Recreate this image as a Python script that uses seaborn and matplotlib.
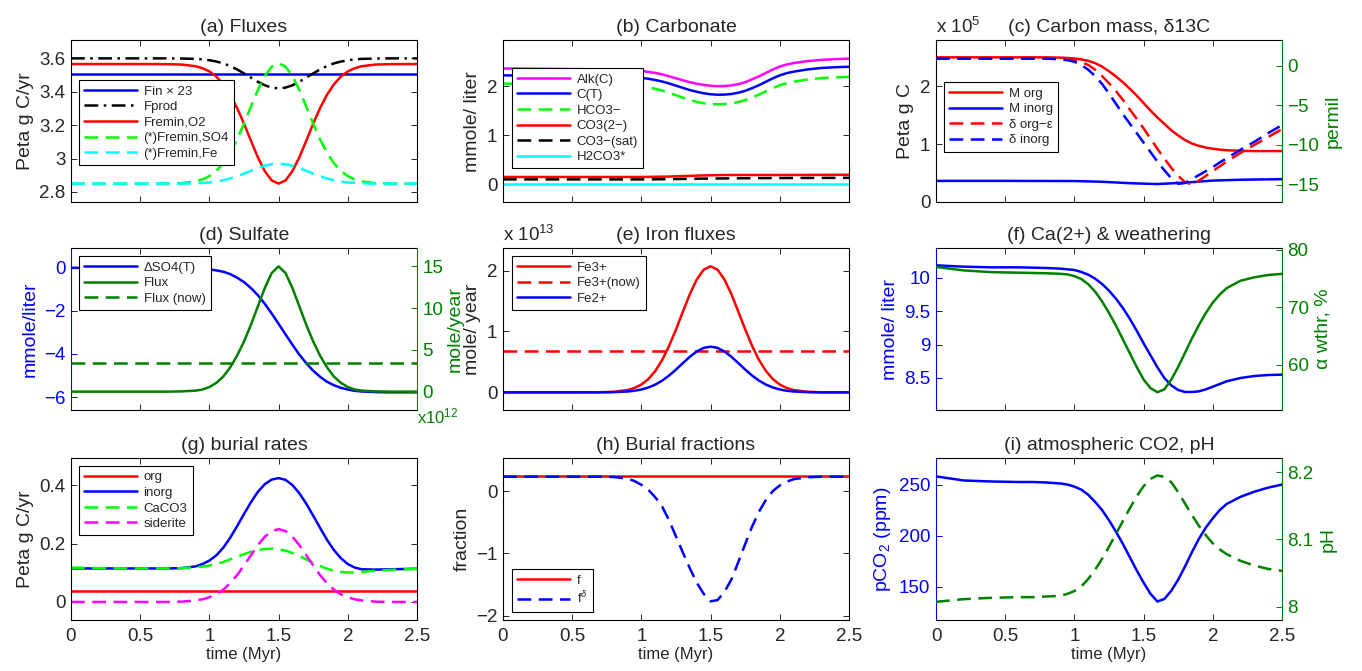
import matplotlib
matplotlib.use("Agg")
import matplotlib.pyplot as plt
import seaborn as sns
from matplotlib.ticker import FixedLocator, FuncFormatter

sns.set_style("ticks")
plt.rcParams['font.family'] = ['Liberation Sans', 'DejaVu Sans']
plt.rcParams['mathtext.fontset'] = 'custom'
plt.rcParams['mathtext.rm'] = 'Liberation Sans'
plt.rcParams['mathtext.it'] = 'Liberation Sans:italic'

# ---- data ----
# common time grid (Myr), finer where curves change
T = [0, 0.2, 0.4, 0.6, 0.7, 0.8, 0.9, 0.95, 1.0, 1.05, 1.1, 1.15, 1.2, 1.25, 1.3, 1.35,
     1.4, 1.45, 1.5, 1.55, 1.6, 1.65, 1.7, 1.75, 1.8, 1.85, 1.9, 1.95, 2.0, 2.05, 2.1,
     2.2, 2.3, 2.4, 2.5]
T_ENDS = [0, 2.5]
T_COARSE = [0, 0.5, 1.0, 1.2, 1.4, 1.6, 1.8, 2.0, 2.2, 2.5]

# (a) fluxes, Peta g C/yr
fin_x23 = [3.505, 3.505]
fprod = [3.6, 3.6, 3.6, 3.6, 3.6, 3.599, 3.597, 3.594, 3.589, 3.581, 3.570, 3.554, 3.534,
         3.510, 3.485, 3.460, 3.439, 3.425, 3.420, 3.425, 3.439, 3.460, 3.485, 3.510, 3.534,
         3.554, 3.570, 3.581, 3.589, 3.594, 3.597, 3.599, 3.6, 3.6, 3.6]
fremin_o2 = [3.566, 3.566, 3.566, 3.566, 3.565, 3.563, 3.553, 3.541, 3.522, 3.491, 3.445,
             3.383, 3.303, 3.209, 3.107, 3.008, 2.925, 2.869, 2.850, 2.869, 2.925, 3.008,
             3.107, 3.209, 3.303, 3.383, 3.445, 3.491, 3.522, 3.541, 3.553, 3.563, 3.565,
             3.566, 3.566]
fremin_so4 = [2.85, 2.85, 2.85, 2.85, 2.851, 2.853, 2.863, 2.875, 2.895, 2.926, 2.972, 3.034,
              3.115, 3.209, 3.311, 3.411, 3.494, 3.551, 3.570, 3.551, 3.494, 3.411, 3.311,
              3.209, 3.115, 3.034, 2.972, 2.926, 2.895, 2.875, 2.863, 2.853, 2.851, 2.85, 2.85]
fremin_fe = [2.85, 2.85, 2.85, 2.85, 2.85, 2.85, 2.852, 2.854, 2.857, 2.863, 2.870, 2.881,
             2.894, 2.910, 2.927, 2.943, 2.957, 2.966, 2.969, 2.966, 2.957, 2.943, 2.927,
             2.910, 2.894, 2.881, 2.870, 2.863, 2.857, 2.854, 2.852, 2.85, 2.85, 2.85, 2.85]

# (b) carbonate, mmole/liter
alk = [2.36, 2.355, 2.35, 2.345, 2.34, 2.335, 2.33, 2.32, 2.31, 2.29, 2.27, 2.24, 2.20, 2.16,
       2.12, 2.08, 2.05, 2.025, 2.008, 2.0, 2.003, 2.015, 2.04, 2.08, 2.14, 2.20, 2.27, 2.34,
       2.40, 2.44, 2.47, 2.51, 2.535, 2.55, 2.56]
c_total = [2.22, 2.215, 2.21, 2.205, 2.20, 2.195, 2.19, 2.18, 2.17, 2.15, 2.125, 2.095, 2.055,
           2.01, 1.965, 1.92, 1.885, 1.855, 1.835, 1.825, 1.828, 1.84, 1.865, 1.905, 1.96,
           2.02, 2.09, 2.16, 2.22, 2.265, 2.295, 2.34, 2.37, 2.385, 2.395]
hco3 = [2.05, 2.045, 2.04, 2.035, 2.03, 2.025, 2.02, 2.01, 1.995, 1.975, 1.945, 1.91, 1.865,
        1.815, 1.765, 1.72, 1.68, 1.65, 1.635, 1.63, 1.635, 1.65, 1.675, 1.715, 1.77, 1.83,
        1.895, 1.96, 2.02, 2.06, 2.09, 2.135, 2.165, 2.18, 2.19]
co3 = [0.15, 0.15, 0.15, 0.158, 0.178, 0.19, 0.19, 0.19, 0.192, 0.195]
co3_sat = [0.10, 0.10, 0.10, 0.105, 0.115, 0.12, 0.125, 0.128, 0.13, 0.132]
h2co3 = [0.013, 0.013]

# (c) carbon mass (x1e5 Peta g C) and delta13C (permil)
m_org = [2.50, 2.50, 2.50, 2.50, 2.50, 2.50, 2.495, 2.49, 2.48, 2.465, 2.44, 2.40, 2.34, 2.26,
         2.17, 2.07, 1.96, 1.84, 1.71, 1.58, 1.46, 1.35, 1.24, 1.15, 1.07, 1.01, 0.97, 0.94,
         0.92, 0.905, 0.895, 0.885, 0.88, 0.88, 0.88]
m_inorg = [0.365, 0.365, 0.362, 0.35, 0.325, 0.31, 0.335, 0.37, 0.385, 0.395]
d_org = [0.9, 0.9, 0.9, 0.9, 0.9, 0.9, 0.88, 0.8, 0.7, 0.45, 0.1, -0.5, -1.3, -2.2, -3.2, -4.3,
         -5.5, -6.7, -7.9, -9.2, -10.5, -11.7, -12.9, -13.9, -14.7, -15.0, -14.5, -13.9,
         -13.3, -12.7, -12.1, -11.0, -10.0, -9.0, -8.0]
d_inorg = [0.9, 0.9, 0.9, 0.9, 0.9, 0.9, 0.8, 0.7, 0.5, 0.1, -0.5, -1.3, -2.3, -3.5, -4.8,
           -6.1, -7.3, -8.5, -9.7, -10.9, -12.1, -13.2, -14.2, -14.9, -14.8, -14.3, -13.8,
           -13.3, -12.8, -12.2, -11.7, -10.6, -9.6, -8.5, -7.5]

# (d) sulfate
d_so4 = [0, 0, 0, 0, 0, 0, -0.02, -0.04, -0.07, -0.12, -0.18, -0.29, -0.46, -0.66, -0.94,
         -1.27, -1.67, -2.12, -2.60, -3.09, -3.57, -4.03, -4.43, -4.78, -5.06, -5.29, -5.45,
         -5.57, -5.65, -5.71, -5.74, -5.77, -5.78, -5.78, -5.78]
so4_flux = [0, 0, 0, 0, 0, 0.03, 0.12, 0.25, 0.55, 1.05, 1.8, 2.9, 4.3, 6.0, 8.0, 10.2, 12.4,
            14.2, 15.0, 14.2, 12.4, 10.2, 8.0, 6.0, 4.3, 2.9, 1.8, 1.05, 0.55, 0.25, 0.12,
            0.03, 0, 0, 0]
so4_flux_now = [3.4, 3.4]

# (e) iron fluxes (x1e13 mole/year)
fe3 = [0, 0, 0, 0, 0.002, 0.009, 0.038, 0.072, 0.128, 0.217, 0.350, 0.530, 0.762, 1.033,
       1.327, 1.613, 1.853, 2.014, 2.070, 2.014, 1.853, 1.613, 1.327, 1.033, 0.762, 0.530,
       0.350, 0.217, 0.128, 0.072, 0.038, 0.009, 0.002, 0, 0]
fe3_now = [0.685, 0.685]
fe2 = [0, 0, 0, 0, 0, 0.003, 0.014, 0.026, 0.047, 0.079, 0.127, 0.192, 0.276, 0.374, 0.481,
       0.584, 0.671, 0.730, 0.750, 0.730, 0.671, 0.584, 0.481, 0.374, 0.276, 0.192, 0.127,
       0.079, 0.047, 0.026, 0.014, 0.003, 0, 0, 0]

# (f) Ca(2+) and weathering
ca = [10.19, 10.17, 10.16, 10.16, 10.155, 10.15, 10.14, 10.13, 10.12, 10.09, 10.05, 9.99,
      9.91, 9.81, 9.69, 9.55, 9.39, 9.21, 9.02, 8.84, 8.66, 8.50, 8.39, 8.32, 8.29, 8.29,
      8.30, 8.33, 8.37, 8.41, 8.45, 8.50, 8.53, 8.545, 8.55]
alpha_wthr = [77.0, 76.4, 76.1, 76.0, 75.95, 75.9, 75.8, 75.7, 75.4, 74.9, 74.0, 72.7, 71.0,
              69.0, 66.8, 64.4, 62.0, 59.6, 57.4, 55.9, 55.2, 55.7, 57.4, 59.6, 62.1, 64.6,
              66.9, 69.0, 70.8, 72.2, 73.3, 74.6, 75.2, 75.6, 75.8]

# (g) burial rates, Peta g C/yr
bur_org = [0.0375, 0.0375]
bur_inorg = [0.115, 0.115, 0.115, 0.115, 0.115, 0.116, 0.122, 0.130, 0.142, 0.160, 0.186,
             0.220, 0.260, 0.302, 0.342, 0.378, 0.404, 0.420, 0.425, 0.419, 0.401, 0.373,
             0.337, 0.296, 0.254, 0.213, 0.178, 0.150, 0.130, 0.118, 0.112, 0.111, 0.112,
             0.113, 0.114]
bur_caco3 = [0.118, 0.116, 0.115, 0.115, 0.115, 0.116, 0.119, 0.121, 0.125, 0.130, 0.137,
             0.146, 0.155, 0.164, 0.172, 0.178, 0.182, 0.183, 0.181, 0.176, 0.168, 0.158,
             0.146, 0.134, 0.123, 0.114, 0.107, 0.103, 0.101, 0.101, 0.103, 0.107, 0.110,
             0.112, 0.113]
bur_siderite = [0, 0, 0, 0, 0, 0.001, 0.005, 0.009, 0.016, 0.026, 0.042, 0.064, 0.092, 0.125,
                0.160, 0.195, 0.224, 0.243, 0.250, 0.243, 0.224, 0.195, 0.160, 0.125, 0.092,
                0.064, 0.042, 0.026, 0.016, 0.009, 0.005, 0.001, 0, 0, 0]

# (h) burial fractions
frac_f = [0.234, 0.234]
frac_fdelta = [0.23, 0.23, 0.23, 0.23, 0.23, 0.225, 0.20, 0.16, 0.10, 0.02, -0.10, -0.25,
               -0.47, -0.73, -0.99, -1.24, -1.47, -1.65, -1.77, -1.75, -1.62, -1.42, -1.14,
               -0.85, -0.57, -0.33, -0.14, 0.0, 0.09, 0.15, 0.19, 0.22, 0.23, 0.23, 0.23]

# (i) atmospheric CO2 and pH
pco2 = [258, 254, 253, 252.5, 252.5, 252, 251, 250, 248, 245, 240, 233, 225, 215, 204, 192,
        179, 166, 154, 143, 135.5, 138, 146, 157, 170, 184, 197, 208, 217, 225, 231, 238,
        243, 247, 250]
ph = [8.007, 8.011, 8.013, 8.014, 8.014, 8.015, 8.016, 8.019, 8.023, 8.030, 8.041, 8.055,
      8.071, 8.089, 8.108, 8.127, 8.146, 8.164, 8.179, 8.190, 8.195, 8.193, 8.185, 8.170,
      8.153, 8.136, 8.120, 8.106, 8.094, 8.085, 8.078, 8.068, 8.061, 8.056, 8.053]

XTICKS = [0, 0.5, 1, 1.5, 2, 2.5]

# ---- style ----
BLUE, RED, GREEN, CYAN, MAG = (0, 0, 1), (1, 0, 0), (0, 1, 0), (0, 1, 1), (1, 0, 1)
DKGREEN = (0, 0.5, 0)
LW = 1.8
DASH = (0, (5.5, 3))
DASHDOT = (0, (5.5, 2.2, 1, 2.2))
TS, TT, YL, XL, LS = 13.5, 14, 14, 12, 9.5

fmt = FuncFormatter(lambda v, p: f"{v:g}".replace('-', '\u2212'))

fig = plt.figure(figsize=(13.62, 6.71), dpi=100)
LEFTS = [71 / 1362, 503 / 1362, 936 / 1362]
BOTS = [469 / 671, 261 / 671, 51 / 671]
W, H = 346 / 1362, 162 / 671


def new_ax(row, col):
    ax = fig.add_axes([LEFTS[col], BOTS[row], W, H])
    ax.set_xlim(0, 2.5)
    ax.xaxis.set_major_locator(FixedLocator(XTICKS))
    ax.xaxis.set_major_formatter(fmt)
    ax.yaxis.set_major_formatter(fmt)
    ax.tick_params(direction='in', length=4, width=0.7, labelsize=TS, top=True,
                   right=True, pad=4, labelbottom=(row == 2))
    ax.tick_params(axis='x', pad=6)
    for sp in ax.spines.values():
        sp.set_linewidth(0.8)
        sp.set_color('k')
    ax.set_xlabel("time (Myr)" if row == 2 else "", fontsize=XL, labelpad=1)
    return ax


def twin(ax, color):
    ax.tick_params(right=False)
    ax.spines['right'].set_visible(False)
    ax2 = ax.twinx()
    for side in ['left', 'top', 'bottom']:
        ax2.spines[side].set_visible(False)
    ax2.spines['right'].set_color(color)
    ax2.spines['right'].set_linewidth(0.8)
    ax2.yaxis.set_major_formatter(fmt)
    ax2.tick_params(direction='in', length=4, width=0.7, labelsize=TS, colors=color, pad=4)
    return ax2


def color_left(ax, color):
    ax.spines['left'].set_color(color)
    ax.tick_params(axis='y', colors=color)


def draw(ax, x, y, color, ls='-', label=None):
    sns.lineplot(x=x, y=y, ax=ax, color=color, linestyle=ls, linewidth=LW,
                 legend=False, errorbar=None, sort=False)
    line = ax.lines[-1]
    if label:
        line.set_label(label)
    return line


def add_legend(ax, handles, anchor, loc='upper left'):
    lg = ax.legend(handles=handles, loc=loc, bbox_to_anchor=anchor, borderaxespad=0,
                   fontsize=LS, fancybox=False, edgecolor='k', framealpha=1,
                   handlelength=4.0, handletextpad=0.5, labelspacing=0.25, borderpad=0.4)
    lg.get_frame().set_linewidth(0.8)
    return lg


# (a) Fluxes
ax = new_ax(0, 0)
h = [draw(ax, T_ENDS, fin_x23, BLUE, label="Fin \u00d7 23"),
     draw(ax, T, fprod, 'k', DASHDOT, "Fprod"),
     draw(ax, T, fremin_o2, RED, label="Fremin,O2"),
     draw(ax, T, fremin_so4, GREEN, DASH, "(*)Fremin,SO4"),
     draw(ax, T, fremin_fe, CYAN, DASH, "(*)Fremin,Fe")]
ax.set_ylim(2.74, 3.71)
ax.yaxis.set_major_locator(FixedLocator([2.8, 3.0, 3.2, 3.4, 3.6]))
ax.set_ylabel("Peta g C/yr", fontsize=YL)
ax.set_title("(a) Fluxes", fontsize=TT, pad=6)
add_legend(ax, h, (0.023, 0.753))

# (b) Carbonate
ax = new_ax(0, 1)
h = [draw(ax, T, alk, MAG, label="Alk(C)"),
     draw(ax, T, c_total, BLUE, label="C(T)"),
     draw(ax, T, hco3, GREEN, DASH, "HCO3\u2212"),
     draw(ax, T_COARSE, co3, RED, label="CO3(2\u2212)"),
     draw(ax, T_COARSE, co3_sat, 'k', DASH, "CO3\u2212(sat)"),
     draw(ax, T_ENDS, h2co3, CYAN, label="H2CO3*")]
ax.set_ylim(-0.36, 2.94)
ax.yaxis.set_major_locator(FixedLocator([0, 1, 2]))
ax.set_ylabel("mmole/ liter", fontsize=YL)
ax.set_title("(b) Carbonate", fontsize=TT, pad=6)
add_legend(ax, h, (0.026, 0.827))

# (c) Carbon mass, d13C
ax = new_ax(0, 2)
ax2 = twin(ax, DKGREEN)
h = [draw(ax, T, m_org, RED, label="M org"),
     draw(ax, T_COARSE, m_inorg, BLUE, label="M inorg"),
     draw(ax2, T, d_org, RED, DASH, "\u03b4 org\u2212\u03b5"),
     draw(ax2, T, d_inorg, BLUE, DASH, "\u03b4 inorg")]
ax.set_ylim(0, 2.8)
ax.yaxis.set_major_locator(FixedLocator([0, 1, 2]))
ax2.set_ylim(-17.2, 3.25)
ax2.yaxis.set_major_locator(FixedLocator([-15, -10, -5, 0]))
ax.set_ylabel("Peta g C", fontsize=YL)
ax2.set_ylabel("permil", fontsize=YL, color=DKGREEN)
ax.set_title("(c) Carbon mass, \u03b413C", fontsize=TT, pad=6)
ax.text(0, 1.02, "x 10$^{5}$", transform=ax.transAxes, fontsize=TS, ha='left', va='bottom')
add_legend(ax2, h, (0.023, 0.74))

# (d) Sulfate
ax = new_ax(1, 0)
ax2 = twin(ax, DKGREEN)
color_left(ax, BLUE)
h = [draw(ax, T, d_so4, BLUE, label="\u0394SO4(T)"),
     draw(ax2, T, so4_flux, DKGREEN, label="Flux"),
     draw(ax2, T_ENDS, so4_flux_now, DKGREEN, DASH, "Flux (now)")]
ax.set_ylim(-6.6, 0.92)
ax.yaxis.set_major_locator(FixedLocator([-6, -4, -2, 0]))
ax2.set_ylim(-2.2, 17.2)
ax2.yaxis.set_major_locator(FixedLocator([0, 5, 10, 15]))
ax.set_ylabel("mmole/liter", fontsize=YL, color=BLUE)
ax2.set_ylabel("mole/year", fontsize=YL, color=DKGREEN, labelpad=2)
ax2.text(1.0, 0.02, "x10$^{12}$", transform=ax2.transAxes, fontsize=TS - 1.5,
         color=DKGREEN, ha='left', va='top')
ax.set_title("(d) Sulfate", fontsize=TT, pad=6)
add_legend(ax2, h, (0.023, 0.95))

# (e) Iron fluxes
ax = new_ax(1, 1)
h = [draw(ax, T, fe3, RED, label="Fe3+"),
     draw(ax, T_ENDS, fe3_now, RED, DASH, "Fe3+(now)"),
     draw(ax, T, fe2, BLUE, label="Fe2+")]
ax.set_ylim(-0.29, 2.37)
ax.yaxis.set_major_locator(FixedLocator([0, 1, 2]))
ax.set_ylabel("mole/ year", fontsize=YL)
ax.set_title("(e) Iron fluxes", fontsize=TT, pad=6)
ax.text(0, 1.02, "x 10$^{13}$", transform=ax.transAxes, fontsize=TS, ha='left', va='bottom')
add_legend(ax, h, (0.026, 0.95))

# (f) Ca(2+) & weathering
ax = new_ax(1, 2)
ax2 = twin(ax, DKGREEN)
color_left(ax, BLUE)
draw(ax, T, ca, BLUE)
draw(ax2, T, alpha_wthr, DKGREEN)
ax.set_ylim(8.02, 10.45)
ax.yaxis.set_major_locator(FixedLocator([8.5, 9, 9.5, 10]))
ax2.set_ylim(52.1, 80.3)
ax2.yaxis.set_major_locator(FixedLocator([60, 70, 80]))
ax.set_ylabel("mmole/ liter", fontsize=YL, color=BLUE)
ax2.set_ylabel("\u03b1 wthr, %", fontsize=YL, color=DKGREEN)
ax.set_title("(f) Ca(2+) & weathering", fontsize=TT, pad=6)

# (g) burial rates
ax = new_ax(2, 0)
h = [draw(ax, T_ENDS, bur_org, RED, label="org"),
     draw(ax, T, bur_inorg, BLUE, label="inorg"),
     draw(ax, T, bur_caco3, GREEN, DASH, "CaCO3"),
     draw(ax, T, bur_siderite, MAG, DASH, "siderite")]
ax.set_ylim(-0.062, 0.494)
ax.yaxis.set_major_locator(FixedLocator([0, 0.2, 0.4]))
ax.set_ylabel("Peta g C/yr", fontsize=YL)
ax.set_title("(g) burial rates", fontsize=TT, pad=6)
add_legend(ax, h, (0.023, 0.951))

# (h) Burial fractions
ax = new_ax(2, 1)
h = [draw(ax, T_ENDS, frac_f, RED, label="f"),
     draw(ax, T, frac_fdelta, BLUE, DASH, "f$^{\u03b4}$")]
ax.set_ylim(-2.07, 0.53)
ax.yaxis.set_major_locator(FixedLocator([-2, -1, 0]))
ax.set_ylabel("fraction", fontsize=YL)
ax.set_title("(h) Burial fractions", fontsize=TT, pad=6)
add_legend(ax, h, (0.026, 0.049), loc='lower left')

# (i) atmospheric CO2, pH
ax = new_ax(2, 2)
ax2 = twin(ax, DKGREEN)
color_left(ax, BLUE)
draw(ax, T, pco2, BLUE)
draw(ax2, T, ph, DKGREEN, DASH)
ax.set_ylim(117.4, 276)
ax.yaxis.set_major_locator(FixedLocator([150, 200, 250]))
ax2.set_ylim(7.98, 8.221)
ax2.yaxis.set_major_locator(FixedLocator([8, 8.1, 8.2]))
ax.set_ylabel("pCO$_2$ (ppm)", fontsize=YL, color=BLUE)
ax2.set_ylabel("pH", fontsize=YL, color=DKGREEN)
ax.set_title("(i) atmospheric CO2, pH", fontsize=TT, pad=6)

fig.savefig("out.png", dpi=100)
